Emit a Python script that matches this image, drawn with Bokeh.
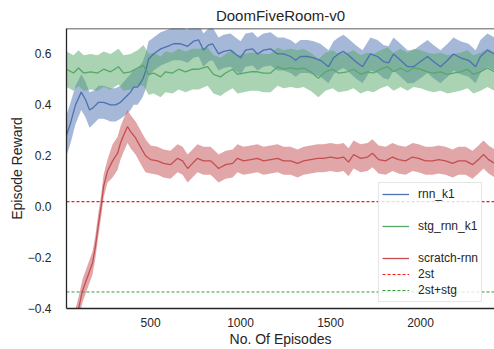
from bokeh.plotting import figure
from bokeh.models import (Range1d, FixedTicker, Legend, LegendItem, Span,
                          CustomJSTickFormatter)
from bokeh.embed import file_html
from bokeh.resources import INLINE
import numpy as np

# ---------------- data ----------------
title = "DoomFiveRoom-v0"
x_label = "No. Of Episodes"
y_label = "Episode Reward"
x_min, x_max = 33, 2411
y_min, y_max = -0.4, 0.70
x_ticks = [500, 1000, 1500, 2000]
y_ticks = [-0.4, -0.2, 0.0, 0.2, 0.4, 0.6]

rnn_x = [33, 56, 83, 115, 139, 161, 183, 211, 239, 278, 306, 333, 361, 389, 406,
         428, 456, 472, 489, 517, 556, 594, 628, 667, 706, 739, 767, 794, 822, 844,
         878, 906, 944, 972, 1000, 1028, 1067, 1094, 1128, 1167, 1206, 1239, 1278, 1306, 1333,
         1372, 1406, 1444, 1489, 1517, 1544, 1572, 1600, 1639, 1678, 1722, 1761, 1794, 1822, 1850,
         1889, 1928, 1961, 2000, 2039, 2072, 2111, 2150, 2183, 2222, 2267, 2306, 2333, 2372, 2411]
rnn_y = [0.28, 0.33, 0.40, 0.45, 0.42, 0.38, 0.39, 0.41, 0.41, 0.40, 0.40, 0.41, 0.43, 0.45, 0.47,
         0.47, 0.50, 0.53, 0.58, 0.60, 0.62, 0.63, 0.64, 0.64, 0.63, 0.65, 0.655, 0.615, 0.635, 0.64,
         0.60, 0.61, 0.615, 0.60, 0.585, 0.615, 0.62, 0.60, 0.615, 0.62, 0.60, 0.60, 0.59, 0.575, 0.59,
         0.59, 0.585, 0.575, 0.55, 0.585, 0.60, 0.61, 0.595, 0.57, 0.55, 0.60, 0.59, 0.57, 0.565, 0.60,
         0.575, 0.55, 0.55, 0.57, 0.59, 0.57, 0.55, 0.575, 0.60, 0.585, 0.575, 0.55, 0.59, 0.615, 0.60]
rnn_sd = [0.08, 0.08, 0.075, 0.07, 0.07, 0.07, 0.065, 0.065, 0.065, 0.065, 0.065, 0.065, 0.07, 0.07, 0.07,
          0.07, 0.07, 0.07, 0.07, 0.065, 0.065, 0.065, 0.065, 0.065, 0.065, 0.065, 0.065, 0.065, 0.065, 0.065,
          0.065, 0.065, 0.065, 0.065, 0.065, 0.065, 0.065, 0.065, 0.065, 0.065, 0.065, 0.065, 0.065, 0.065, 0.065,
          0.065, 0.065, 0.065, 0.065, 0.065, 0.065, 0.065, 0.065, 0.065, 0.065, 0.065, 0.065, 0.065, 0.065, 0.065,
          0.065, 0.065, 0.065, 0.065, 0.065, 0.065, 0.065, 0.065, 0.065, 0.065, 0.065, 0.065, 0.065, 0.065, 0.065]

stg_x = [33, 72, 100, 128, 167, 206, 239, 278, 322, 350, 389, 428, 461, 489, 517,
         556, 583, 622, 656, 694, 733, 767, 817, 850, 889, 917, 956, 983, 1017, 1056,
         1094, 1128, 1167, 1206, 1239, 1278, 1317, 1350, 1389, 1433, 1472, 1511, 1544, 1594, 1628,
         1667, 1706, 1739, 1778, 1817, 1850, 1889, 1928, 1961, 2000, 2039, 2072, 2111, 2150, 2183,
         2222, 2261, 2294, 2333, 2372, 2411]
stg_y = [0.54, 0.525, 0.545, 0.525, 0.53, 0.525, 0.54, 0.53, 0.55, 0.525, 0.53, 0.545, 0.555, 0.52, 0.525,
         0.51, 0.53, 0.525, 0.54, 0.53, 0.54, 0.54, 0.55, 0.52, 0.51, 0.525, 0.54, 0.52, 0.525, 0.53,
         0.53, 0.525, 0.525, 0.55, 0.54, 0.545, 0.54, 0.545, 0.53, 0.505, 0.53, 0.54, 0.525, 0.53, 0.54,
         0.52, 0.53, 0.525, 0.54, 0.55, 0.53, 0.545, 0.53, 0.545, 0.54, 0.53, 0.525, 0.53, 0.52, 0.525,
         0.53, 0.54, 0.52, 0.53, 0.545, 0.53]
stg_sd = [0.07] * 12 + [0.08] * 10 + [0.075] * 44

scratch_x = [33, 100, 122, 150, 178, 194, 211, 228, 239, 261, 289, 317, 333, 350, 372,
             389, 417, 444, 472, 500, 539, 572, 611, 650, 678, 706, 733, 761, 794, 833,
             850, 878, 917, 956, 983, 1017, 1056, 1094, 1128, 1167, 1206, 1239, 1278, 1317, 1350,
             1389, 1428, 1461, 1500, 1539, 1572, 1600, 1628, 1667, 1706, 1733, 1767, 1806, 1844, 1878,
             1917, 1956, 1989, 2028, 2067, 2100, 2139, 2178, 2211, 2250, 2289, 2322, 2350, 2378, 2411]
scratch_y = [-0.58, -0.40, -0.33, -0.275, -0.22, -0.155, -0.065, 0.015, 0.08, 0.14, 0.18, 0.21, 0.25, 0.28, 0.315,
             0.295, 0.27, 0.235, 0.20, 0.185, 0.18, 0.17, 0.165, 0.19, 0.18, 0.15, 0.17, 0.19, 0.18, 0.18,
             0.17, 0.15, 0.165, 0.17, 0.19, 0.18, 0.185, 0.19, 0.18, 0.185, 0.19, 0.18, 0.18, 0.17, 0.18,
             0.185, 0.19, 0.19, 0.195, 0.19, 0.195, 0.175, 0.205, 0.19, 0.195, 0.21, 0.185, 0.18, 0.195, 0.185,
             0.18, 0.195, 0.19, 0.18, 0.18, 0.185, 0.18, 0.17, 0.18, 0.18, 0.165, 0.185, 0.205, 0.185, 0.17]
scratch_sd = [0.045] * 10 + [0.065] * 9 + [0.055] * 56

two_st = 0.02
two_st_stg = -0.335

labels = ["rnn_k1", "stg_rnn_k1", "scratch-rnn", "2st", "2st+stg"]
colors = ["#4C72B0", "#55A868", "#C44E52"]
FONT = "Liberation Sans"
TXT = "#262626"

# ---------------- figure ----------------
p = figure(width=494, height=349, x_range=Range1d(x_min, x_max), y_range=Range1d(y_min, y_max),
           output_backend="svg", toolbar_location=None,
           min_border_left=66, min_border_right=0, min_border_top=28, min_border_bottom=41)
p.outline_line_color = None
p.background_fill_color = "white"
p.border_fill_color = "white"
p.xgrid.visible = False
p.ygrid.visible = False

p.title.text = title
p.title.align = "center"
p.title.text_font = FONT
p.title.text_font_size = "15px"
p.title.text_font_style = "normal"
p.title.text_color = TXT
p.title.standoff = 9

# bands
series = [(rnn_x, rnn_y, rnn_sd), (stg_x, stg_y, stg_sd), (scratch_x, scratch_y, scratch_sd)]
for (xs, ys, sds), c in zip(series, colors):
    ya = np.array(ys); sa = np.array(sds)
    p.varea(x=xs, y1=ya - sa, y2=ya + sa, fill_color=c, fill_alpha=0.5)

# mean lines
line_r = []
for (xs, ys, sds), c in zip(series, colors):
    line_r.append(p.line(xs, ys, line_color=c, line_width=1.3))

r_2st = p.line([x_min, x_max], [two_st, two_st], line_color="#ff1a1a", line_width=1.2,
               line_dash="3 2")
r_2stg = p.line([x_min, x_max], [two_st_stg, two_st_stg], line_color="#1f8f1f", line_width=0.9,
                line_dash="3 2")

spacer = p.line(x=[], y=[], line_alpha=0)

legend = Legend(items=[
    LegendItem(label=labels[0], renderers=[line_r[0]]),
    LegendItem(label=" ", renderers=[spacer]),
    LegendItem(label=labels[1], renderers=[line_r[1]]),
    LegendItem(label="  ", renderers=[spacer]),
    LegendItem(label=labels[2], renderers=[line_r[2]]),
    LegendItem(label=labels[3], renderers=[r_2st]),
    LegendItem(label=labels[4], renderers=[r_2stg]),
], location=(312, 6))
legend.label_text_font = FONT
legend.label_text_font_size = "12px"
legend.label_text_color = TXT
legend.label_height = 16
legend.glyph_height = 16
legend.glyph_width = 27
legend.label_standoff = 9
legend.spacing = 0
legend.padding = 3
legend.margin = 0
legend.border_line_color = "#cccccc"
legend.border_line_width = 1
legend.background_fill_alpha = 0.8
p.add_layout(legend)

fmt = CustomJSTickFormatter(code="return tick.toFixed(1).replace('-', '\\u2212');")

for ax in (p.xaxis[0], p.yaxis[0]):
    ax.axis_line_color = TXT
    ax.axis_line_width = 1.3
    ax.major_tick_line_color = None
    ax.minor_tick_line_color = None
    ax.major_label_text_font = FONT
    ax.major_label_text_font_size = "12px"
    ax.major_label_text_color = TXT
    ax.axis_label_text_font = FONT
    ax.axis_label_text_font_size = "14px"
    ax.axis_label_text_font_style = "normal"
    ax.axis_label_text_color = TXT

p.xaxis.ticker = FixedTicker(ticks=x_ticks)
p.yaxis.ticker = FixedTicker(ticks=y_ticks)
p.yaxis.formatter = fmt
p.xaxis.axis_label = x_label
p.yaxis.axis_label = y_label
p.xaxis.major_label_standoff = 3
p.xaxis.axis_label_standoff = 1
p.yaxis.major_label_standoff = 9
p.yaxis.axis_label_standoff = 0

p.add_layout(Span(location=y_max, dimension="width", line_color=TXT, line_width=1.3))

open("out.html", "w").write(file_html(p, INLINE))
